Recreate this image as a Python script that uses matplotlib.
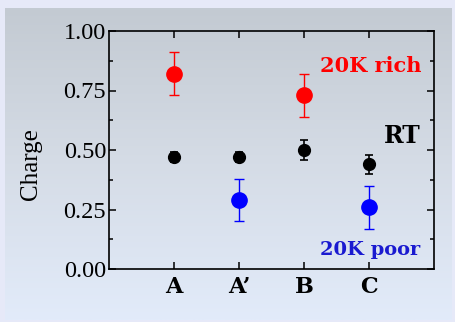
import numpy as np
import matplotlib.pyplot as plt
import matplotlib
from matplotlib.colors import LinearSegmentedColormap

matplotlib.rc('font', family='DejaVu Serif')

sites = ['A', "A’", 'B', 'C']
x_pos = [1, 2, 3, 4]

# RT (black)
rt_x = [1, 2, 3, 4]
rt_y = [0.47, 0.47, 0.50, 0.44]
rt_err = [0.02, 0.02, 0.04, 0.04]

# 20K rich (red)
rich_x = [1, 3]
rich_y = [0.82, 0.73]
rich_err = [0.09, 0.09]

# 20K poor (blue)
poor_x = [2, 4]
poor_y = [0.29, 0.26]
poor_err = [0.09, 0.09]

fig = plt.figure(figsize=(4.55, 3.22), dpi=100)
fig.patch.set_facecolor('#e6e9f8')

# slide-like gradient panel behind the plot
bg = fig.add_axes([0.011, 0.006, 0.982, 0.969], zorder=-10)
grad = np.linspace(0, 1, 256).reshape(-1, 1)
cmap = LinearSegmentedColormap.from_list('bgr', ['#c3cad2', '#d5dce6', '#e2ebfa'])
bg.imshow(grad, aspect='auto', cmap=cmap, extent=[0, 1, 1, 0])
bg.set_axis_off()

ax = fig.add_axes([109/455, 1-269/322, (434-109)/455, (269-31)/322])
ax.patch.set_alpha(0)

ax.errorbar(rt_x, rt_y, yerr=rt_err, fmt='o', color='black', ms=8.5,
            capsize=3, elinewidth=1.2, capthick=1.2)
ax.errorbar(rich_x, rich_y, yerr=rich_err, fmt='o', color='#ff0000', ms=11,
            capsize=3.5, elinewidth=1.0, capthick=1.0)
ax.errorbar(poor_x, poor_y, yerr=poor_err, fmt='o', color='#0000ff', ms=11,
            capsize=3.5, elinewidth=1.0, capthick=1.0)

ax.set_xlim(0, 5)
ax.set_ylim(0, 1)
ax.set_xticks(x_pos)
ax.set_xticklabels(sites, fontsize=16, fontweight='bold')
ax.set_yticks([0, 0.25, 0.5, 0.75, 1.0])
ax.set_yticklabels(['0.00', '0.25', '0.50', '0.75', '1.00'], fontsize=17.5,
                   family='Liberation Serif')
ax.set_yticks([0.125, 0.375, 0.625, 0.875], minor=True)
ax.tick_params(which='both', direction='in', top=True, right=True, width=1.1)
ax.tick_params(which='major', length=5, pad=2)
ax.tick_params(which='minor', length=3)
ax.tick_params(axis='x', which='major', pad=5)
for s in ax.spines.values():
    s.set_linewidth(1.2)

ax.set_ylabel('Charge', fontsize=18, family='Liberation Serif')
ax.yaxis.set_label_coords(-0.205, 0.44)

ax.text(0.963, 0.855, '20K rich', transform=ax.transAxes, ha='right', va='center',
        color='#ff0000', fontsize=15, fontweight='bold')
ax.text(0.958, 0.56, 'RT', transform=ax.transAxes, ha='right', va='center',
        color='black', fontsize=17, fontweight='bold')
ax.text(0.958, 0.08, '20K poor', transform=ax.transAxes, ha='right', va='center',
        color='#1a1ad0', fontsize=14, fontweight='bold')

fig.savefig('out.png', dpi=100)
